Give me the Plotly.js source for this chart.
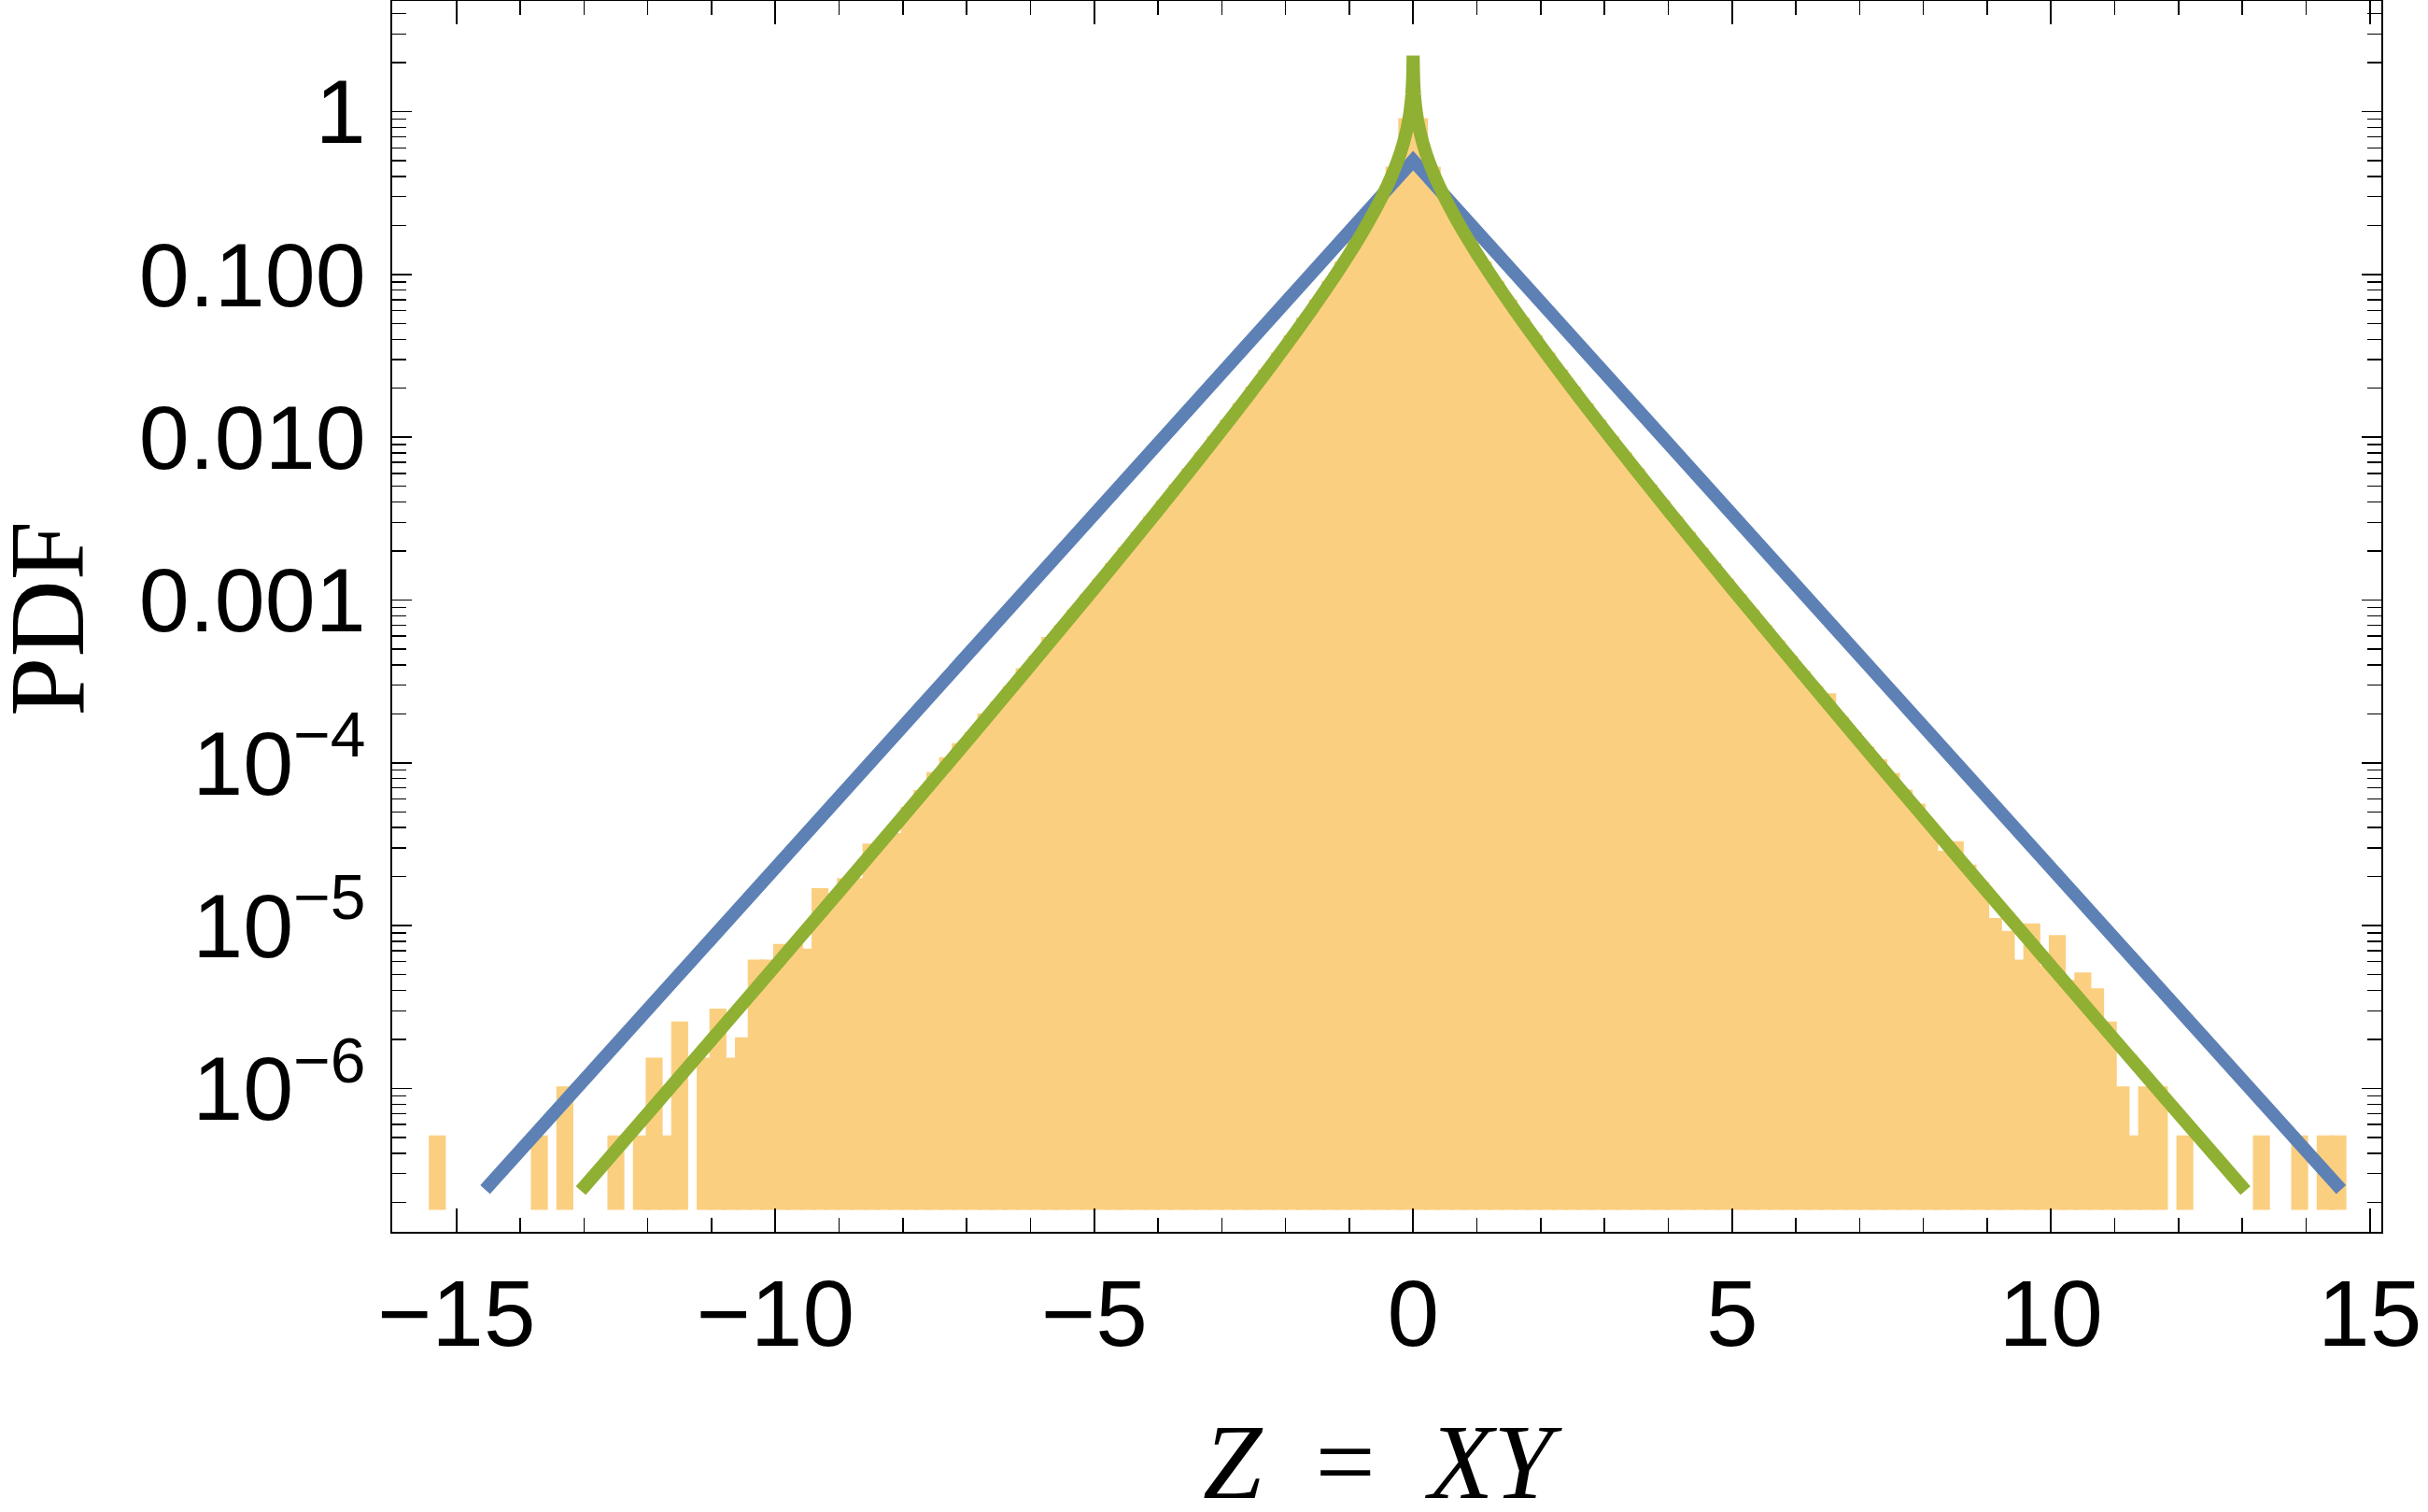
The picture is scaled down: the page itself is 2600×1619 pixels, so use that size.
<!DOCTYPE html>
<html>
<head>
<meta charset="utf-8">
<script src="https://cdn.plot.ly/plotly-3.0.1.min.js"></script>
<style>
  html, body { margin: 0; padding: 0; background: #ffffff; }
  #chart { width: 2600px; height: 1619px; }
</style>
</head>
<body>
<div id="chart"></div>
<script>
// ---- Histogram of simulated Z = XY (bin width 0.2), PDF heights ----
const binCenters = [
  -15.3, -15.1, -14.9, -14.7, -14.5, -14.3, -14.1, -13.9, -13.7, -13.5,
  -13.3, -13.1, -12.9, -12.7, -12.5, -12.3, -12.1, -11.9, -11.7, -11.5,
  -11.3, -11.1, -10.9, -10.7, -10.5, -10.3, -10.1,  -9.9,  -9.7,  -9.5,
   -9.3,  -9.1,  -8.9,  -8.7,  -8.5,  -8.3,  -8.1,  -7.9,  -7.7,  -7.5,
   -7.3,  -7.1,  -6.9,  -6.7,  -6.5,  -6.3,  -6.1,  -5.9,  -5.7,  -5.5,
   -5.3,  -5.1,  -4.9,  -4.7,  -4.5,  -4.3,  -4.1,  -3.9,  -3.7,  -3.5,
   -3.3,  -3.1,  -2.9,  -2.7,  -2.5,  -2.3,  -2.1,  -1.9,  -1.7,  -1.5,
   -1.3,  -1.1,  -0.9,  -0.7,  -0.5,  -0.3,  -0.1,   0.1,   0.3,   0.5,
    0.7,   0.9,   1.1,   1.3,   1.5,   1.7,   1.9,   2.1,   2.3,   2.5,
    2.7,   2.9,   3.1,   3.3,   3.5,   3.7,   3.9,   4.1,   4.3,   4.5,
    4.7,   4.9,   5.1,   5.3,   5.5,   5.7,   5.9,   6.1,   6.3,   6.5,
    6.7,   6.9,   7.1,   7.3,   7.5,   7.7,   7.9,   8.1,   8.3,   8.5,
    8.7,   8.9,   9.1,   9.3,   9.5,   9.7,   9.9,  10.1,  10.3,  10.5,
   10.7,  10.9,  11.1,  11.3,  11.5,  11.7,  11.9,  12.1,  12.3,  12.5,
   12.7,  12.9,  13.1,  13.3,  13.5,  13.7,  13.9,  14.1,  14.3,  14.5
];
const binPdf = [
  5e-7,   null,   null,   null,   null,   null,   null,   null,   5e-7,   null,
  1e-6,   null,   null,   null,   5e-7,   null,   5e-7,   1.5e-6, 5e-7,   2.5e-6,
  null,   1.5e-6, 3e-6,   1.5e-6, 2e-6,   6e-6,   6e-6,   7.5e-6, 7.5e-6, 7e-6,
  1.65e-5,1.45e-5,1.9e-5, 1.9e-5, 3.1e-5, 3.2e-5, 3.6e-5, 5.2e-5, 6.6e-5, 8.5e-5,
  1.05e-4,1.28e-4,1.5e-4, 1.95e-4,2.31e-4,2.87e-4,3.7e-4, 4.41e-4,5.75e-4,6.81e-4,
  8.47e-4,1.053e-3,1.311e-3,1.634e-3,2.038e-3,2.543e-3,3.178e-3,3.973e-3,4.975e-3,6.238e-3,
  7.834e-3,9.858e-3,0.01242,0.0157,0.01987,0.02524,0.03217,0.041,0.05268,0.06806,
  0.08855,0.1164, 0.1549, 0.2102, 0.2943, 0.445,  0.885,  0.885,  0.445,  0.2943,
  0.2102, 0.1549, 0.1164, 0.08855,0.06806,0.05268,0.041,  0.03217,0.02524,0.01987,
  0.0157, 0.01242,9.858e-3,7.834e-3,6.238e-3,4.975e-3,3.973e-3,3.178e-3,2.543e-3,2.038e-3,
  1.634e-3,1.311e-3,1.053e-3,8.47e-4,6.81e-4,5.48e-4,4.41e-4,3.56e-4,2.87e-4,2.6e-4,
  1.86e-4,1.5e-4, 1.22e-4,1.02e-4,8.4e-5, 6.65e-5,5.45e-5,4.0e-5, 2.8e-5, 3.2e-5,
  2.3e-5, 1.8e-5, 1.08e-5,9e-6,   6e-6,   1e-5,   5.5e-6, 8.5e-6, 4.5e-6, 5e-6,
  4e-6,   2.5e-6, 1e-6,   5e-7,   1e-6,   1e-6,   null,   5e-7,   null,   null,
  null,   null,   null,   5e-7,   null,   null,   5e-7,   null,   5e-7,   5e-7
];
const binWidth = 0.2;
const barBase = 1.85e-7;

// ---- Laplace reference curve (blue) ----
const laplaceZ   = [-14.55, 0, 14.55];
const laplacePdf = [2.39e-7, 0.5, 2.39e-7];

// ---- Product-normal curve (green) ----
const productZ = [
  -13.05, -12, -11, -10, -9, -8, -7, -6, -5, -4.5, -4, -3.5, -3.2, -3, -2.8, -2.6,
  -2.4, -2.2, -2, -1.8, -1.6, -1.4, -1.2, -1, -0.9, -0.8, -0.7, -0.6, -0.5, -0.4,
  -0.35, -0.3, -0.25, -0.2, -0.15, -0.1, -0.07, -0.05, -0.03, -0.02, -0.01,
  -0.005, -0.002,
  0.002, 0.005, 0.01, 0.02, 0.03, 0.05, 0.07, 0.1, 0.15, 0.2, 0.25, 0.3, 0.35,
  0.4, 0.5, 0.6, 0.7, 0.8, 0.9, 1, 1.2, 1.4, 1.6, 1.8, 2, 2.2, 2.4, 2.6, 2.8, 3,
  3.2, 3.5, 4, 4.5, 5, 6, 7, 8, 9, 10, 11, 12, 13.05
];
const productPdf = [
  2.353e-7, 7.006e-7, 1.987e-6, 5.66e-6, 1.62e-5, 4.663e-5, 1.352e-4, 3.96e-4,
  1.175e-3, 2.037e-3, 3.552e-3, 6.239e-3, 8.782e-3, 0.01106, 0.01395, 0.01763,
  0.02235, 0.02842, 0.03625, 0.04644, 0.05984, 0.07757, 0.1014, 0.134, 0.1549,
  0.1799, 0.2102, 0.2475, 0.2943, 0.3548, 0.3922, 0.4369, 0.4906, 0.5579,
  0.6462, 0.7726, 0.8848, 0.9913, 1.153, 1.282, 1.503, 1.723, 2.015,
  2.015, 1.723, 1.503, 1.282, 1.153, 0.9913, 0.8848, 0.7726, 0.6462, 0.5579,
  0.4906, 0.4369, 0.3922, 0.3548, 0.2943, 0.2475, 0.2102, 0.1799, 0.1549,
  0.134, 0.1014, 0.07757, 0.05984, 0.04644, 0.03625, 0.02842, 0.02235, 0.01763,
  0.01395, 0.01106, 8.782e-3, 6.239e-3, 3.552e-3, 2.037e-3, 1.175e-3, 3.96e-4,
  1.352e-4, 4.663e-5, 1.62e-5, 5.66e-6, 1.987e-6, 7.006e-7, 2.353e-7
];

// ---- Axis ticks ----
const xTickVals = [-15, -10, -5, 0, 5, 10, 15];
const xTickText = ['\u221215', '\u221210', '\u22125', '0', '5', '10', '15'];
const yTickVals = [1, 0.1, 0.01, 0.001, 1e-4, 1e-5, 1e-6];
const yTickText = ['1', '0.100', '0.010', '0.001',
  '10<sup>\u22124</sup>', '10<sup>\u22125</sup>', '10<sup>\u22126</sup>'];

// minor tick positions
const xMinor = [];
for (let v = -16; v <= 15; v++) xMinor.push(v);
const yMinor = [];
for (let e = -7; e <= 0; e++) for (let k = 1; k <= 9; k++) yMinor.push(k * Math.pow(10, e));

const barColor = '#FBCF80';
const blue = '#5E81B5';
const green = '#8FB032';

const traces = [
  {
    type: 'bar',
    x: binCenters,
    y: binPdf.map(v => (v === null ? null : v - barBase)),
    base: barBase,
    width: binWidth,
    marker: { color: barColor, line: { color: barColor, width: 4.5 } },
    hoverinfo: 'skip'
  },
  {
    type: 'scatter', mode: 'lines',
    x: laplaceZ, y: laplacePdf,
    line: { color: blue, width: 14, simplify: false },
    hoverinfo: 'skip'
  },
  {
    type: 'scatter', mode: 'lines',
    x: productZ, y: productPdf,
    line: { color: green, width: 14, simplify: false },
    hoverinfo: 'skip'
  }
];

const xTickFont = { family: 'Liberation Sans, Arial, sans-serif', size: 100, color: '#000' };
const yTickFont = { family: 'Liberation Sans, Arial, sans-serif', size: 97, color: '#000' };
const titleFont = { family: 'Liberation Serif, Times New Roman, serif', size: 114, color: '#000' };

const layout = {
  width: 2600, height: 1619,
  margin: { l: 420, r: 50, t: 1, b: 300, pad: 0 },
  paper_bgcolor: '#ffffff', plot_bgcolor: '#ffffff',
  showlegend: false,
  bargap: 0,
  xaxis: {
    range: [-16.007, 15.18],
    tickmode: 'array', tickvals: xTickVals, ticktext: xTickText,
    ticks: 'inside', ticklen: 25, tickwidth: 1.6, tickcolor: '#000',
    showline: true, linecolor: '#000', linewidth: 2, mirror: 'ticks',
    showgrid: false, zeroline: false,
    tickfont: xTickFont, ticklabelstandoff: 0,
    minor: { tickmode: 'array', tickvals: xMinor, ticks: 'inside', ticklen: 15,
             tickwidth: 1.4, tickcolor: '#000', showgrid: false }
  },
  yaxis: {
    type: 'log',
    range: [-6.881, 0.680],
    tickmode: 'array', tickvals: yTickVals, ticktext: yTickText,
    ticks: 'inside', ticklen: 21, tickwidth: 1.6, tickcolor: '#000',
    showline: true, linecolor: '#000', linewidth: 2, mirror: 'ticks',
    showgrid: false, zeroline: false,
    tickfont: yTickFont, ticklabelstandoff: 7,
    minor: { tickmode: 'array', tickvals: yMinor, ticks: 'inside', ticklen: 15,
             tickwidth: 1.4, tickcolor: '#000', showgrid: false }
  },
  annotations: [
    {
      text: 'PDF', xref: 'paper', yref: 'paper',
      x: (50 - 420) / 2130, y: (1319 - 663) / 1318,
      xanchor: 'center', yanchor: 'middle', textangle: -90,
      showarrow: false, font: titleFont
    },
    {
      text: '<i>Z</i>\u2002=\u2002<i>XY</i>', xref: 'paper', yref: 'paper',
      x: (1480 - 420) / 2130, y: (1319 - 1566) / 1318,
      xanchor: 'center', yanchor: 'middle',
      showarrow: false, font: titleFont
    }
  ]
};

Plotly.newPlot('chart', traces, layout, { displayModeBar: false, staticPlot: true });
</script>
</body>
</html>
